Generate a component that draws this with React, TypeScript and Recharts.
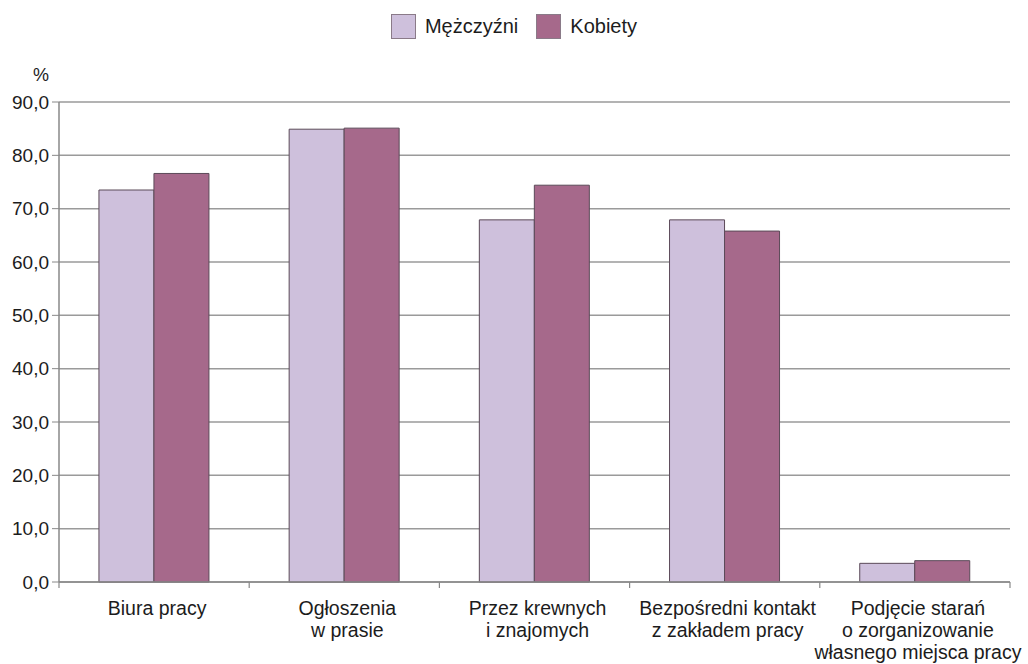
import React from "react";
import { BarChart, Bar, XAxis, YAxis, CartesianGrid } from "recharts";

const categories = [
  "Biura pracy",
  "Ogłoszenia\nw prasie",
  "Przez krewnych\ni znajomych",
  "Bezpośredni kontakt\nz zakładem pracy",
  "Podjęcie starań\no zorganizowanie\nwłasnego miejsca pracy",
];
const men = [73.5, 84.9, 67.9, 67.9, 3.5];
const women = [76.6, 85.1, 74.4, 65.8, 4.0];
const yTicks = [0, 10, 20, 30, 40, 50, 60, 70, 80, 90];
const seriesNames = ["Mężczyźni", "Kobiety"];

const data = categories.map((name, i) => ({ name, m: men[i], k: women[i] }));

const FONT = '"Liberation Sans", Arial, Helvetica, sans-serif';
const MEN_COLOR = "#cec0dc";
const WOMEN_COLOR = "#a6698b";
const STROKE = "#5b4a58";
const TEXT = "#1c1c1c";

const CatTick = (props: any) => {
  const { x, y, payload, index, visibleTicksCount, width } = props;
  const count = visibleTicksCount || categories.length;
  const band = width ? width / count : 0;
  const lines = String(payload.value).split("\n");
  return (
    <g>
      {band > 0 && (
        <line
          x1={x - band / 2}
          x2={x - band / 2}
          y1={y}
          y2={y + 6}
          stroke="#888"
          strokeWidth={1.2}
        />
      )}
      {band > 0 && index === count - 1 && (
        <line
          x1={x + band / 2}
          x2={x + band / 2}
          y1={y}
          y2={y + 6}
          stroke="#888"
          strokeWidth={1.2}
        />
      )}
      <text
        x={x}
        y={y}
        textAnchor="middle"
        fontFamily={FONT}
        fontSize={19.5}
        fill={TEXT}
      >
        {lines.map((l, i) => (
          <tspan key={i} x={x + 3} dy={i === 0 ? 33 : 22}>
            {l}
          </tspan>
        ))}
      </text>
    </g>
  );
};

const PercentLabel = (props: any) => {
  const vb = props.viewBox || {};
  return (
    <text
      x={41}
      y={(vb.y ?? 102) - 21}
      textAnchor="middle"
      fontFamily={FONT}
      fontSize={18}
      fill={TEXT}
    >
      %
    </text>
  );
};

const LegendItem = ({ color, label }: { color: string; label: string }) => (
  <div style={{ display: "flex", alignItems: "center", margin: "0 9px" }}>
    <div
      style={{
        width: 25,
        height: 25,
        background: color,
        border: "1px solid #8a7a88",
        boxSizing: "border-box",
        marginRight: 9,
      }}
    />
    <span style={{ fontSize: 20, color: TEXT, fontFamily: FONT }}>{label}</span>
  </div>
);

export default function App() {
  return (
    <div
      style={{
        position: "absolute",
        left: 0,
        top: 0,
        width: 1028,
        height: 664,
        background: "#fff",
        fontFamily: FONT,
      }}
    >
      <div
        style={{
          position: "absolute",
          top: 14,
          left: 0,
          width: 1028,
          display: "flex",
          justifyContent: "center",
        }}
      >
        <LegendItem color={MEN_COLOR} label={seriesNames[0]} />
        <LegendItem color={WOMEN_COLOR} label={seriesNames[1]} />
      </div>
      <BarChart
        width={1028}
        height={664}
        data={data}
        margin={{ top: 102, right: 18, bottom: 2, left: 0 }}
        barCategoryGap="21%"
        barGap={0}
      >
        <CartesianGrid vertical={false} stroke="#9a9a9a" strokeWidth={1.5} />
        <XAxis
          dataKey="name"
          tickLine={false}
          tickSize={0}
          tickMargin={0}
          axisLine={{ stroke: "#888", strokeWidth: 1.5 }}
          tick={<CatTick />}
          interval={0}
          height={80}
        />
        <YAxis
          width={59}
          domain={[0, 90]}
          ticks={yTicks}
          interval={0}
          tickFormatter={(v: number) => v.toFixed(1).replace(".", ",")}
          tick={{ fontSize: 19, fill: TEXT, fontFamily: FONT }}
          tickLine={{ stroke: "#888" }}
          tickSize={7}
          tickMargin={3}
          axisLine={{ stroke: "#888", strokeWidth: 1.5 }}
          label={<PercentLabel />}
        />
        <Bar
          dataKey="m"
          name={seriesNames[0]}
          fill={MEN_COLOR}
          stroke={STROKE}
          strokeWidth={1}
          isAnimationActive={false}
        />
        <Bar
          dataKey="k"
          name={seriesNames[1]}
          fill={WOMEN_COLOR}
          stroke={STROKE}
          strokeWidth={1}
          isAnimationActive={false}
        />
      </BarChart>
    </div>
  );
}
